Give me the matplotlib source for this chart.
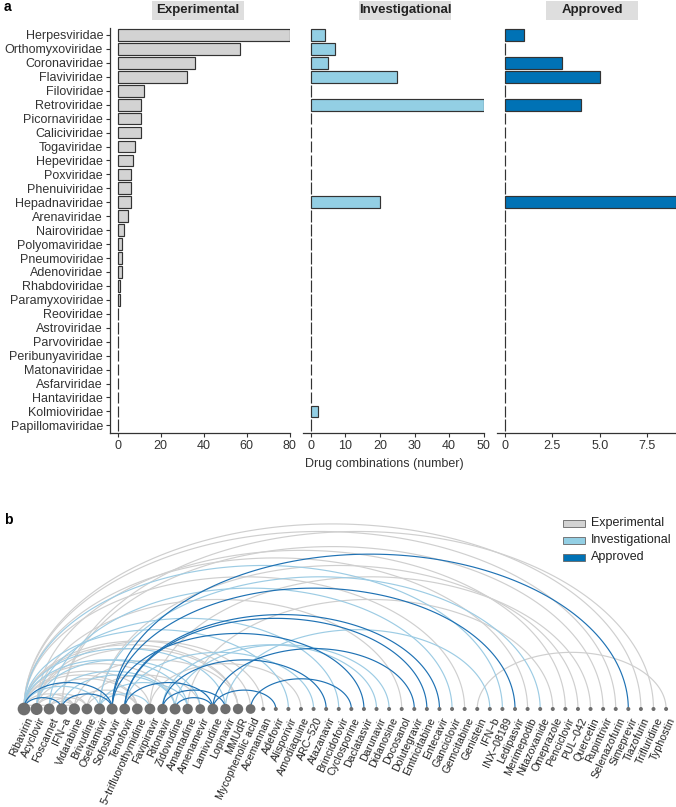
import numpy as np
import matplotlib
matplotlib.use("Agg")
import matplotlib.pyplot as plt
from matplotlib.patches import Rectangle

plt.rcParams['font.family'] = ['Liberation Sans', 'DejaVu Sans']

# ---------------- data: panel a ----------------
families = ["Herpesviridae", "Orthomyxoviridae", "Coronaviridae", "Flaviviridae",
            "Filoviridae", "Retroviridae", "Picornaviridae", "Caliciviridae",
            "Togaviridae", "Hepeviridae", "Poxviridae", "Phenuiviridae",
            "Hepadnaviridae", "Arenaviridae", "Nairoviridae", "Polyomaviridae",
            "Pneumoviridae", "Adenoviridae", "Rhabdoviridae", "Paramyxoviridae",
            "Reoviridae", "Astroviridae", "Parvoviridae", "Peribunyaviridae",
            "Matonaviridae", "Asfarviridae", "Hantaviridae", "Kolmioviridae",
            "Papillomaviridae"]
experimental = [80, 57, 36, 32, 12, 11, 11, 11, 8, 7, 6, 6, 6, 5, 3, 2, 2, 2, 1, 1,
                0, 0, 0, 0, 0, 0, 0, 0, 0]
investigational = [4, 7, 5, 25, 0, 50, 0, 0, 0, 0, 0, 0, 20, 0, 0, 0, 0, 0, 0, 0,
                   0, 0, 0, 0, 0, 0, 0, 2, 0]
approved = [1, 0, 3, 5, 0, 4, 0, 0, 0, 0, 0, 0, 9, 0, 0, 0, 0, 0, 0, 0,
            0, 0, 0, 0, 0, 0, 0, 0, 0]
phases = ["Experimental", "Investigational", "Approved"]
x_ticks = [[0, 20, 40, 60, 80], [0, 10, 20, 30, 40, 50], [0, 2.5, 5.0, 7.5]]
x_ticklabels = [["0", "20", "40", "60", "80"], ["0", "10", "20", "30", "40", "50"],
                ["0", "2.5", "5.0", "7.5"]]

# ---------------- data: panel b ----------------
drugs = ["Ribavirin", "Acyclovir", "Foscarnet", "IFN\u2212a", "Vidarabine", "Brivudine",
         "Oseltamivir", "Sofosbuvir", "Tenofovir", "5\u2212trifluorothymidine",
         "Favipiravir", "Ritonavir", "Zidovudine", "Amantadine", "Amenamevir",
         "Lamivudine", "Lopinavir", "MMUdR", "Mycophenolic acid", "Acemannan",
         "Adefovir", "Alisporivir", "Amodiaquine", "ARC\u2212520", "Atazanavir",
         "Brincidofovir", "Cyclosporine", "Daclatasvir", "Darunavir", "Didanosine",
         "Docosanol", "Dolutegravir", "Emtricitabine", "Entecavir", "Ganciclovir",
         "Gemcitabine", "Genistein", "IFN\u2212b", "INX\u221208189", "Ledipasvir",
         "Merimepodib", "Nitazoxanide", "Omeprazole", "Penciclovir", "PUL\u2212042",
         "Quercetin", "Rupintrivir", "Selenazofurin", "Simeprevir", "Tiazofurin",
         "Trifluridine", "Typhostin"]

approved_pairs = [("Ribavirin", "IFN\u2212a"), ("Ribavirin", "Sofosbuvir"),
                  ("IFN\u2212a", "Sofosbuvir"), ("Sofosbuvir", "Daclatasvir"),
                  ("Sofosbuvir", "Ledipasvir"), ("Sofosbuvir", "Simeprevir"),
                  ("Ritonavir", "Lopinavir"), ("Ritonavir", "Atazanavir"),
                  ("Zidovudine", "Lamivudine"), ("Lamivudine", "Adefovir"),
                  ("Lamivudine", "Dolutegravir"), ("Tenofovir", "Emtricitabine"),
                  ("Tenofovir", "Lamivudine"), ("Tenofovir", "Entecavir"),
                  ("Mycophenolic acid", "Cyclosporine")]
investigational_pairs = [("Ribavirin", "Oseltamivir"), ("Ribavirin", "Amantadine"),
                         ("Oseltamivir", "Amantadine"), ("Oseltamivir", "Favipiravir"),
                         ("Oseltamivir", "Nitazoxanide"), ("Ribavirin", "Alisporivir"),
                         ("Ribavirin", "INX\u221208189"), ("Tenofovir", "ARC\u2212520"),
                         ("Ritonavir", "Darunavir"), ("Zidovudine", "Didanosine"),
                         ("Foscarnet", "Ganciclovir"), ("Lopinavir", "IFN\u2212b"),
                         ("Acyclovir", "Amenamevir"), ("IFN\u2212a", "Zidovudine"),
                         ("Foscarnet", "Zidovudine"), ("Ribavirin", "Lopinavir"),
                         ("Acyclovir", "Brincidofovir")]
experimental_pairs = [("Ribavirin", "Acyclovir"), ("Ribavirin", "Vidarabine"),
                      ("Ribavirin", "5\u2212trifluorothymidine"), ("Ribavirin", "Favipiravir"),
                      ("Ribavirin", "Zidovudine"), ("Ribavirin", "MMUdR"),
                      ("Ribavirin", "Mycophenolic acid"), ("Ribavirin", "Gemcitabine"),
                      ("Ribavirin", "Merimepodib"), ("Ribavirin", "Selenazofurin"),
                      ("Ribavirin", "Tiazofurin"),
                      ("Acyclovir", "Foscarnet"), ("Acyclovir", "Vidarabine"),
                      ("Acyclovir", "Brivudine"), ("Acyclovir", "5\u2212trifluorothymidine"),
                      ("Acyclovir", "MMUdR"), ("Acyclovir", "Acemannan"),
                      ("Acyclovir", "Docosanol"), ("Acyclovir", "Penciclovir"),
                      ("Foscarnet", "Vidarabine"), ("Foscarnet", "Brivudine"),
                      ("IFN\u2212a", "Vidarabine"), ("IFN\u2212a", "Rupintrivir"),
                      ("IFN\u2212a", "Trifluridine"),
                      ("Vidarabine", "5\u2212trifluorothymidine"), ("Vidarabine", "MMUdR"),
                      ("Brivudine", "5\u2212trifluorothymidine"), ("Brivudine", "Amenamevir"),
                      ("Oseltamivir", "PUL\u2212042"), ("Favipiravir", "Amodiaquine"),
                      ("Favipiravir", "Quercetin"), ("Amantadine", "Omeprazole"),
                      ("Genistein", "Typhostin")]

# ---------------- styling ----------------
W, H = 676, 807
fills = {"Experimental": "#D3D3D3", "Investigational": "#93CFE4", "Approved": "#0072B5"}
arc_cols = {"Experimental": "#CFCFCF", "Investigational": "#9DCCE4", "Approved": "#1F72B4"}
dark = "#333333"

fig = plt.figure(figsize=(W / 100, H / 100), dpi=100)


def box(x0, y0, x1, y1):
    return [x0 / W, 1 - y1 / H, (x1 - x0) / W, (y1 - y0) / H]


panel_x = [(110, 290), (303, 484), (497, 676)]
series = [experimental, investigational, approved]
strip_centers = [198, 405, 592]
n = len(families)
ypos = np.arange(n)

for k, (vals, ph) in enumerate(zip(series, phases)):
    ax = fig.add_axes(box(panel_x[k][0], 28, panel_x[k][1], 433))
    m = max(vals)
    ax.barh(ypos, vals, height=0.84, color=fills[ph], edgecolor=dark, linewidth=0.85)
    ax.set_xlim(-0.045 * m, 1.002 * m)
    ax.set_ylim(n - 1 + 0.55, -0.5)
    for s in ["top", "right"]:
        ax.spines[s].set_visible(False)
    ax.spines["bottom"].set_color(dark)
    ax.spines["bottom"].set_linewidth(0.9)
    ax.set_xticks(x_ticks[k])
    ax.set_xticklabels(x_ticklabels[k])
    ax.tick_params(axis="x", length=3, width=0.8, color=dark, labelsize=9,
                   labelcolor=dark, pad=2)
    if k == 0:
        ax.spines["left"].set_color(dark)
        ax.spines["left"].set_linewidth(0.9)
        ax.set_yticks(ypos)
        ax.set_yticklabels(families)
        ax.tick_params(axis="y", length=3, width=0.8, color=dark, labelsize=9,
                       labelcolor=dark, pad=2)
    else:
        ax.spines["left"].set_visible(False)
        ax.set_yticks([])
    # strip label
    cx = strip_centers[k]
    fig.add_artist(Rectangle(((cx - 46) / W, 1 - 20 / H), 92 / W, 19 / H,
                             transform=fig.transFigure, facecolor="#DEDEDE",
                             edgecolor="none"))
    fig.text(cx / W, 1 - 10.5 / H, ph, ha="center", va="center", fontsize=9.5,
             fontweight="bold", color="#222222")

fig.text(384 / W, 1 - 464 / H, "Drug combinations (number)", ha="center",
         va="center", fontsize=9, color=dark)
fig.text(4 / W, 1 - 7 / H, "a", ha="left", va="center", fontsize=10,
         fontweight="bold")
fig.text(4 / W, 1 - 520 / H, "b", ha="left", va="center", fontsize=10,
         fontweight="bold")

# ---------------- panel b: arc diagram ----------------
step = 12.59
x_first, y_base = 24, 709
axb = fig.add_axes(box(0, 495, W, H))
axb.set_xlim(-x_first / step, (W - x_first) / step)
axb.set_ylim(-(H - y_base) / step, (y_base - 495) / step)
axb.axis("off")

idx = {d: i for i, d in enumerate(drugs)}
degree = np.zeros(len(drugs))
t = np.linspace(0, np.pi, 120)
for ph, pairs in [("Experimental", experimental_pairs),
                  ("Investigational", investigational_pairs),
                  ("Approved", approved_pairs)]:
    for a, b in pairs:
        i, j = sorted((idx[a], idx[b]))
        degree[i] += 1
        degree[j] += 1
        c, r = (i + j) / 2, (j - i) / 2
        axb.plot(c + r * np.cos(t), 0.6 * r * np.sin(t), color=arc_cols[ph],
                 lw=0.85, solid_capstyle="butt", zorder=2)

dmax = degree.max()
diam_px = 4 + 8.7 * ((degree - 1) / (dmax - 1)) ** 0.15
sizes = (diam_px * 0.72) ** 2
xs = np.arange(len(drugs))
axb.scatter(xs, np.zeros(len(drugs)), s=sizes, color="#6E6E6E", zorder=3,
            linewidths=0)
for i, d in enumerate(drugs):
    axb.text(i + 0.15, -0.55, d, rotation=65, rotation_mode="anchor", ha="right",
             va="top", fontsize=7.7, color="#222222")

# legend
for r, ph in enumerate(phases):
    yc = 523 + 17 * r
    fig.add_artist(Rectangle((563 / W, 1 - (yc + 3.5) / H), 22 / W, 7 / H,
                             transform=fig.transFigure, facecolor=fills[ph],
                             edgecolor="#666666", linewidth=0.6))
    fig.text(591 / W, 1 - yc / H, ph, ha="left", va="center", fontsize=9,
             color="#222222")

fig.savefig("out.png", dpi=100)
